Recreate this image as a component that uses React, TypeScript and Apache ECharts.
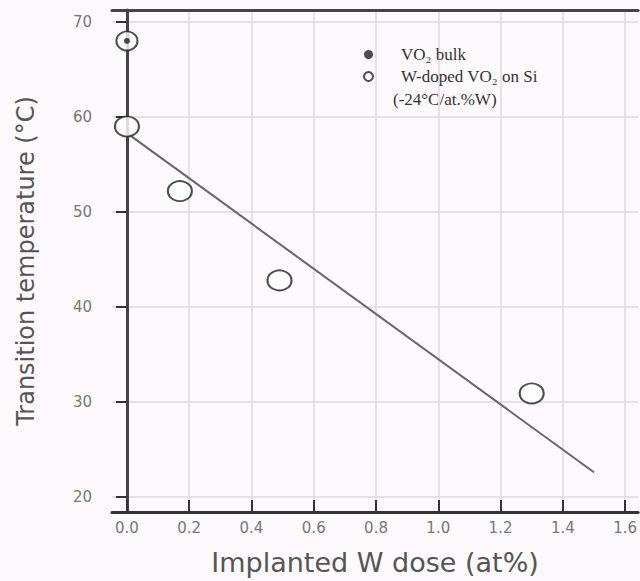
import React, { useEffect, useRef } from "react";
import * as echarts from "echarts";

const xTicks = [0, 0.2, 0.4, 0.6, 0.8, 1.0, 1.2, 1.4, 1.6];
const yTicks = [20, 30, 40, 50, 60, 70];
const bulkX = [0];
const bulkY = [68];
const dopedX = [0, 0.17, 0.49, 1.3];
const dopedY = [59, 52.2, 42.8, 30.9];
const fitX = [0, 1.5];
const fitY = [58.3, 22.6];
const legendNames = ["VO\u2082 bulk", "W-doped VO\u2082 on Si"];
const legendNote = "(-24\u00B0C/at.%W)";
const xTitle = "Implanted W dose (at%)";
const yTitle = "Transition temperature (\u00B0C)";

export default function App() {
  const ref = useRef<HTMLDivElement>(null);
  useEffect(() => {
    if (!ref.current) return;
    const chart = echarts.init(ref.current, undefined, { renderer: "svg" });
    const pts = (xs: number[], ys: number[]) => xs.map((x, i) => [x, ys[i]]);
    const sans = "DejaVu Sans, Liberation Sans, Arial, sans-serif";
    const serif = "Liberation Serif, Times New Roman, serif";
    chart.setOption({
      animation: false,
      backgroundColor: "#fdf9fc",
      grid: { left: 112, top: 10, right: 0, bottom: 68 },
      legend: {
        data: legendNames,
        orient: "vertical",
        left: 358,
        top: 41,
        itemWidth: 9,
        itemHeight: 9,
        itemGap: 5,
        textStyle: { fontFamily: serif, fontSize: 17, color: "#333", padding: [0, 0, 0, 23] },
      },
      graphic: [
        {
          type: "text",
          left: 393,
          top: 91,
          style: { text: legendNote, font: "17px " + serif, fill: "#333" },
        },
      ],
      xAxis: [
        {
          type: "value",
          min: -0.048,
          max: 1.642,
          name: xTitle,
          nameLocation: "middle",
          nameGap: 37,
          nameTextStyle: { fontFamily: sans, fontSize: 27, color: "#555" },
          axisLine: { lineStyle: { color: "#333", width: 3 } },
          axisTick: { inside: true, length: 12, customValues: xTicks, lineStyle: { color: "#333", width: 2 } },
          axisLabel: {
            customValues: xTicks,
            margin: 8,
            fontFamily: sans,
            fontSize: 15,
            color: "#777",
            formatter: (v: number) => v.toFixed(1),
          },
          splitLine: { show: true, lineStyle: { color: "#ddd8dc", width: 1.5 } },
        },
        {
          type: "value",
          position: "top",
          min: -0.048,
          max: 1.642,
          axisLine: { show: true, lineStyle: { color: "#444", width: 3 } },
          axisTick: { show: false },
          axisLabel: { show: false },
          splitLine: { show: false },
        },
      ],
      yAxis: {
        type: "value",
        min: 18.42,
        max: 71.26,
        name: yTitle,
        nameLocation: "middle",
        nameGap: 74,
        nameTextStyle: { fontFamily: sans, fontSize: 24, color: "#555" },
        axisLine: { show: true, lineStyle: { color: "#444", width: 3 } },
        axisTick: { show: true, length: 11, customValues: yTicks, lineStyle: { color: "#333", width: 2 } },
        axisLabel: { customValues: yTicks, margin: 20, fontFamily: sans, fontSize: 15, color: "#777" },
        splitLine: { show: true, lineStyle: { color: "#ddd8dc", width: 1.5 } },
      },
      series: [
        {
          name: "fit",
          type: "line",
          data: pts(fitX, fitY),
          symbol: "none",
          lineStyle: { color: "#666", width: 2 },
          z: 2,
        },
        {
          name: legendNames[1],
          type: "scatter",
          data: pts(dopedX, dopedY),
          symbol: "circle",
          symbolSize: [24, 20],
          itemStyle: { color: "#fff", borderColor: "#222", borderWidth: 2 },
          z: 3,
        },
        {
          name: "bulk ring",
          type: "scatter",
          data: pts(bulkX, bulkY),
          symbol: "circle",
          symbolSize: [21, 19],
          itemStyle: { color: "#fff", borderColor: "#222", borderWidth: 2 },
          z: 3,
        },
        {
          name: legendNames[0],
          type: "scatter",
          data: pts(bulkX, bulkY),
          symbol: "circle",
          symbolSize: 6,
          itemStyle: { color: "#222" },
          z: 4,
        },
      ],
    });
    return () => chart.dispose();
  }, []);
  return (
    <div
      ref={ref}
      style={{ position: "fixed", left: 0, top: 0, width: 640, height: 581 }}
    />
  );
}
